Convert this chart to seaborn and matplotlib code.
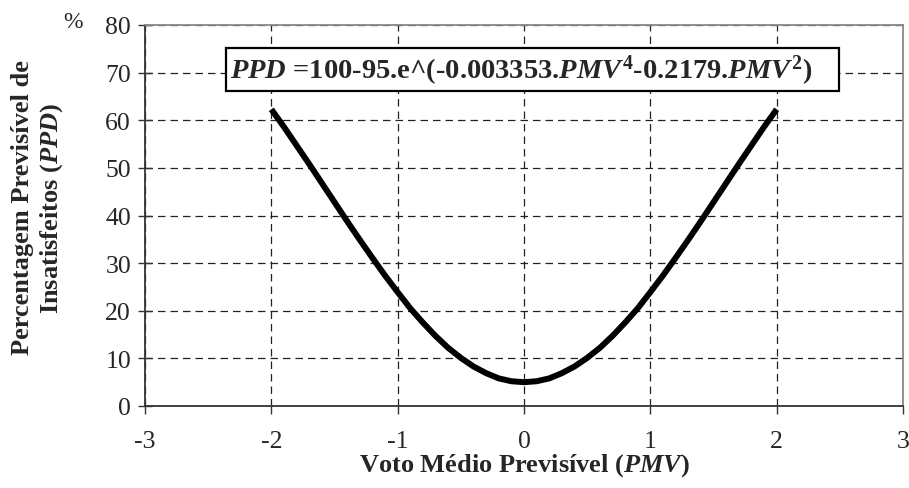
import matplotlib
matplotlib.use("Agg")
import matplotlib.pyplot as plt
import seaborn as sns
import pandas as pd
from matplotlib.patches import Rectangle
from matplotlib.transforms import Bbox

pmv = [-2.0, -1.9, -1.8, -1.7, -1.6, -1.5, -1.4, -1.3, -1.2, -1.1, -1.0,
       -0.9, -0.8, -0.7, -0.6, -0.5, -0.4, -0.3, -0.2, -0.1, 0.0,
       0.1, 0.2, 0.3, 0.4, 0.5, 0.6, 0.7, 0.8, 0.9, 1.0,
       1.1, 1.2, 1.3, 1.4, 1.5, 1.6, 1.7, 1.8, 1.9, 2.0]
ppd = [62.3, 58.6, 54.7, 50.8, 46.8, 42.8, 38.8, 34.9, 31.1, 27.4, 23.9,
       20.5, 17.5, 14.7, 12.2, 10.1, 8.3, 6.9, 5.8, 5.2, 5.0,
       5.2, 5.8, 6.9, 8.3, 10.1, 12.2, 14.7, 17.5, 20.5, 23.9,
       27.4, 31.1, 34.9, 38.8, 42.8, 46.8, 50.8, 54.7, 58.6, 62.3]
x_ticks = [-3, -2, -1, 0, 1, 2, 3]
y_ticks = [0, 10, 20, 30, 40, 50, 60, 70, 80]

sns.set_theme(style="white")
plt.rcParams['font.family'] = ['Liberation Serif', 'DejaVu Serif']
plt.rcParams['mathtext.fontset'] = 'custom'
plt.rcParams['mathtext.it'] = 'Liberation Serif:bold:italic'
plt.rcParams['mathtext.rm'] = 'Liberation Serif:bold'
plt.rcParams['mathtext.bf'] = 'Liberation Serif:bold'

df = pd.DataFrame({"PMV": pmv, "PPD": ppd})

fig = plt.figure(figsize=(9.09, 4.89), dpi=100)
ax = fig.add_axes([145/909, 1-407/489, (903-145)/909, (407-26)/489])

sns.lineplot(data=df, x="PMV", y="PPD", ax=ax, color="black", linewidth=4.3,
             solid_capstyle="butt", zorder=3)

ax.set_xlim(-3, 3)
ax.set_ylim(0, 80)
ax.set_xticks(x_ticks)
ax.set_yticks(y_ticks)
ax.set_xticklabels([str(v) for v in x_ticks], fontsize=18.5)
ax.set_yticklabels([str(v) for v in y_ticks], fontsize=18.5)
ax.tick_params(axis='y', direction='inout', length=10, width=1, color='#333333', pad=5, left=True)
ax.tick_params(axis='x', direction='out', length=6, width=1, color='#333333', pad=11, bottom=True)
ax.set_xlabel("")
ax.set_ylabel("")

ax.grid(True, which='major', color='#222222', linestyle=(0, (6, 4)), linewidth=0.9)
ax.set_axisbelow(True)

for side in ['left', 'bottom']:
    ax.spines[side].set_color('#333333')
    ax.spines[side].set_linewidth(1.3)
for side in ['top', 'right']:
    ax.spines[side].set_color('#888888')
    ax.spines[side].set_linewidth(1.3)

# formula box
box = Rectangle((226/909, 1-92/489), (839-226)/909, (92-49)/489, transform=fig.transFigure,
                facecolor='white', edgecolor='black', linewidth=1.6, zorder=5)
fig.patches.append(box)
fig.text(230/909, 1-71/489,
         r"$PPD$ =100-95.e^(-0.003353.$PMV^{\mathrm{4}}$-0.2179.$PMV^{\mathrm{2}}$)",
         fontsize=20.5, fontweight='bold', ha='left', va='center', zorder=6)

# axis labels
fig.text(525/909, 1-466/489, r"Voto Médio Previsível ($PMV$)", fontsize=19,
         fontweight='bold', ha='center', va='center')
yl = fig.text(38/909, 1-208/489, "Percentagem Previsível de\nInsatisfeitos (" + r"$PPD$" + ")",
              fontsize=19, fontweight='bold', ha='center', va='center', rotation=90,
              linespacing=1.25, multialignment='center')
yl.set_clip_box(Bbox.from_extents(0, 0, 909, 489-55))
yl.set_clip_on(True)
fig.text(73/909, 1-23/489, "%", fontsize=17, ha='center', va='center')

fig.savefig("out.png", dpi=100)
